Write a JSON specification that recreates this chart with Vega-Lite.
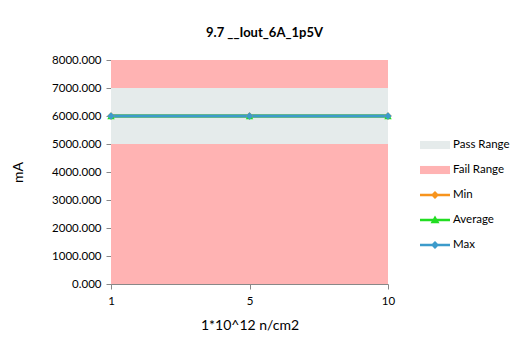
{
  "$schema": "https://vega.github.io/schema/vega-lite/v6.json",
  "width": 277,
  "height": 224,
  "autosize": {"type": "none"},
  "padding": {"left": 111, "top": 60, "right": 127, "bottom": 63},
  "background": "white",
  "title": {"text": "9.7 __Iout_6A_1p5V", "font": "Lato", "fontSize": 13, "fontWeight": "bold", "color": "#000000", "anchor": "middle", "dx": 15, "dy": 3, "offset": 17},
  "config": {
    "view": {"stroke": null},
    "font": "Lato",
    "axis": {"labelFont": "Lato", "titleFont": "Lato", "labelColor": "#000000", "titleColor": "#000000", "labelFontSize": 11.5, "titleFontSize": 14, "titleFontWeight": "normal", "domainColor": "#888888", "tickColor": "#888888", "grid": false, "tickSize": 5, "labelOverlap": false}
  },
  "datasets": {
    "ranges": [
      {"series": "Fail Range", "lo": 0, "hi": 8000},
      {"series": "Pass Range", "lo": 5000, "hi": 7000}
    ],
    "meas": [
      {"x": "1", "series": "Min", "value": 6000},
      {"x": "5", "series": "Min", "value": 6000},
      {"x": "10", "series": "Min", "value": 6000},
      {"x": "1", "series": "Average", "value": 6000},
      {"x": "5", "series": "Average", "value": 6000},
      {"x": "10", "series": "Average", "value": 6000},
      {"x": "1", "series": "Max", "value": 6000},
      {"x": "5", "series": "Max", "value": 6000},
      {"x": "10", "series": "Max", "value": 6000}
    ]
  },
  "encoding": {
    "color": {
      "field": "series", "type": "nominal", "title": null,
      "scale": {"domain": ["Pass Range", "Fail Range", "Min", "Average", "Max"], "range": ["#E5EBEB", "#FFB3B3", "#F7941D", "#22DD22", "#3C9BCB"]},
      "legend": {
        "orient": "none", "legendX": 309, "legendY": 70,
        "labelFont": "Lato", "labelFontSize": 11.5, "labelColor": "#000000",
        "symbolSize": 900, "rowPadding": 4, "labelOffset": 3,
        "symbolStrokeWidth": 0,
        "encode": {"symbols": {"update": {
          "fill": {"scale": "color", "field": "value"},
          "stroke": {"value": "transparent"},
          "opacity": {"value": 1},
          "shape": {"signal": "datum.value === 'Average' ? 'M-1,-0.09H1V0.09H-1Z M0,-0.3L0.3,0.22L-0.3,0.22Z' : (datum.value === 'Min' || datum.value === 'Max') ? 'M-1,-0.09H1V0.09H-1Z M0,-0.27L0.27,0L0,0.27L-0.27,0Z' : 'M-1,-0.27H1V0.27H-1Z'"}
        }}}
      }
    }
  },
  "layer": [
    {
      "data": {"name": "ranges"},
      "mark": {"type": "rect"},
      "encoding": {
        "y": {"field": "lo", "type": "quantitative", "scale": {"domain": [0, 8000]}, "axis": {"title": "mA", "format": ".3f", "values": [0, 1000, 2000, 3000, 4000, 5000, 6000, 7000, 8000], "titlePadding": 26, "labelPadding": 5}},
        "y2": {"field": "hi"}
      }
    },
    {
      "data": {"name": "meas"},
      "mark": {"type": "line", "strokeWidth": 3},
      "encoding": {
        "x": {"field": "x", "type": "ordinal", "sort": ["1", "5", "10"], "scale": {"type": "point", "padding": 0}, "axis": {"title": "1*10^12 n/cm2", "labelAngle": 0, "titlePadding": 12, "labelPadding": 6}},
        "y": {"field": "value", "type": "quantitative", "axis": {"title": "mA", "format": ".3f", "values": [0, 1000, 2000, 3000, 4000, 5000, 6000, 7000, 8000], "titlePadding": 26, "labelPadding": 5}}
      }
    },
    {
      "data": {"name": "meas"},
      "mark": {"type": "point", "filled": true, "size": 55, "opacity": 1},
      "encoding": {
        "x": {"field": "x", "type": "ordinal", "sort": ["1", "5", "10"]},
        "y": {"field": "value", "type": "quantitative", "axis": {"title": "mA", "format": ".3f", "values": [0, 1000, 2000, 3000, 4000, 5000, 6000, 7000, 8000], "titlePadding": 26, "labelPadding": 5}},
        "shape": {"field": "series", "type": "nominal", "scale": {"domain": ["Min", "Average", "Max"], "range": ["diamond", "triangle-up", "diamond"]}, "legend": null}
      }
    }
  ]
}
